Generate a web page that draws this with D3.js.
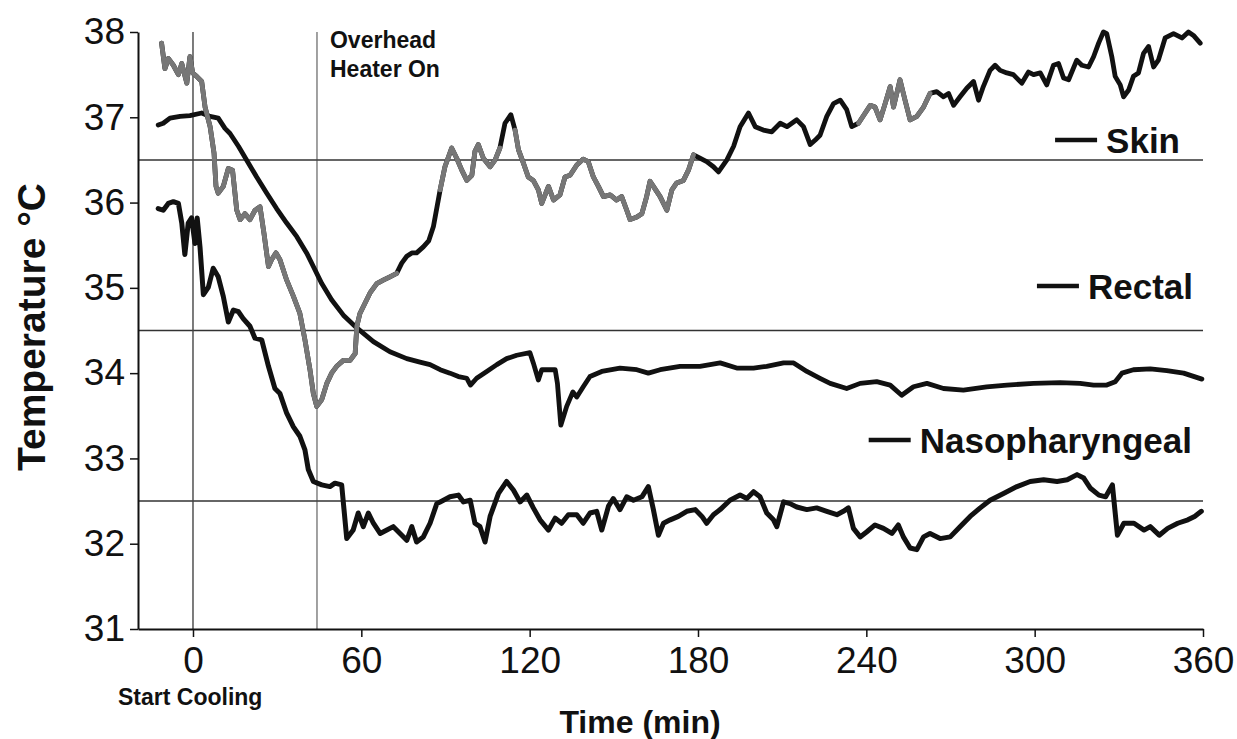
<!DOCTYPE html>
<html>
<head>
<meta charset="utf-8">
<script src="https://cdn.jsdelivr.net/npm/d3@7"></script>
<style>
  body { margin: 0; background: #fff; }
  svg { display: block; font-family: "Liberation Sans", Arial, Helvetica, sans-serif; }
</style>
</head>
<body>
<svg id="chart" width="1237" height="739"></svg>
<script>
// time (min), temperature (°C)
const skin = [[-11.2,37.87],[-10,37.57],[-8.8,37.69],[-7,37.61],[-5.2,37.50],[-4,37.63],[-2.2,37.40],[-1.1,37.71],[-0.1,37.52],[1.3,37.48],[3.1,37.42],[4.3,37.12],[6.1,36.89],[7.5,36.58],[8.2,36.19],[9,36.11],[10.8,36.19],[12.6,36.40],[14.1,36.38],[15.6,35.91],[16.8,35.80],[18.5,35.87],[20.3,35.80],[22.1,35.91],[23.9,35.95],[25.3,35.64],[26.9,35.25],[28,35.33],[29.6,35.41],[31,35.33],[33.4,35.09],[35.8,34.90],[38.1,34.70],[39.9,34.39],[41.7,34.04],[42.9,33.76],[44.1,33.61],[45.9,33.69],[47.7,33.88],[49.4,34.00],[51.2,34.08],[53.6,34.15],[56,34.15],[57.8,34.23],[58.4,34.55],[59.5,34.70],[61.3,34.82],[63.1,34.94],[65.5,35.05],[67.8,35.09],[70.2,35.13],[72.6,35.17],[74.4,35.29],[76.2,35.37],[78,35.41],[79.7,35.41],[82.1,35.48],[84,35.55],[85.7,35.72],[88.1,36.15],[89.8,36.42],[92.2,36.64],[94,36.52],[95.8,36.38],[97.6,36.26],[99.4,36.32],[100.5,36.60],[101.7,36.68],[103.5,36.52],[105.9,36.42],[107.7,36.50],[109.4,36.64],[111.2,36.93],[113.3,37.03],[114.8,36.85],[116,36.62],[117.8,36.46],[119.5,36.30],[121.3,36.26],[123.1,36.15],[124.3,35.99],[126.7,36.19],[128.5,36.03],[130.8,36.09],[132.6,36.30],[134.4,36.32],[136.8,36.44],[139.1,36.51],[140.9,36.48],[142.7,36.30],[144.5,36.19],[146.3,36.07],[148.7,36.09],[151,36.03],[152.8,36.07],[154.6,35.91],[155.8,35.80],[158.2,35.83],[160,35.87],[161.7,36.07],[162.9,36.25],[164.1,36.19],[166.5,36.07],[168.9,35.91],[170.7,36.15],[172.4,36.23],[174.8,36.26],[176.6,36.38],[178.4,36.56],[180.7,36.52],[183.1,36.48],[185.5,36.42],[187.3,36.36],[190.3,36.50],[192.7,36.66],[195,36.89],[198,37.05],[200.4,36.89],[203.3,36.85],[206.3,36.83],[209.3,36.93],[211.7,36.89],[215.2,36.97],[217.6,36.89],[220,36.68],[221.7,36.73],[223.5,36.79],[225.9,37.01],[228.3,37.16],[230.7,37.20],[233,37.09],[234.8,36.89],[237.2,36.93],[239.6,37.05],[241.4,37.14],[243.1,37.12],[244.9,36.97],[246.7,37.16],[248.5,37.36],[249.7,37.12],[252,37.44],[253.8,37.20],[255.6,36.97],[258,37.01],[260.4,37.12],[262.7,37.28],[265.1,37.30],[267.5,37.24],[269.3,37.28],[271.1,37.14],[273.4,37.24],[275.8,37.34],[278.2,37.42],[280,37.20],[281.7,37.36],[284.1,37.55],[285.9,37.61],[287.7,37.55],[290.1,37.52],[292.4,37.50],[295.4,37.40],[297.8,37.53],[299.6,37.50],[302,37.52],[304.3,37.38],[306.7,37.61],[308.5,37.63],[310.3,37.46],[312.1,37.44],[315,37.67],[316.8,37.61],[319.2,37.59],[321,37.71],[322.8,37.87],[324.5,38.00],[325.7,37.98],[327.5,37.71],[328.7,37.48],[330.5,37.38],[331.7,37.24],[333.5,37.32],[335.2,37.48],[337,37.52],[338.8,37.75],[340.6,37.83],[342.4,37.59],[344.1,37.67],[346.5,37.93],[349.5,37.98],[352.5,37.93],[354.8,38.00],[356.6,37.96],[359,37.87]];

const rectal = [[-12.4,36.91],[-10.6,36.93],[-8.2,36.99],[-4.6,37.01],[-1.1,37.02],[3.1,37.05],[6.1,37.01],[9,36.99],[11.4,36.87],[13.2,36.81],[16.2,36.66],[19.1,36.50],[22.7,36.30],[26.3,36.11],[29.8,35.93],[33.4,35.76],[37,35.60],[40.5,35.41],[42.9,35.25],[45.9,35.05],[49.4,34.86],[53.6,34.68],[58.4,34.53],[64.3,34.37],[70.2,34.25],[76.2,34.17],[80.9,34.13],[84.5,34.10],[88.1,34.04],[91.6,34.00],[94.6,33.96],[97.6,33.94],[98.9,33.86],[101.1,33.94],[104.7,34.02],[108.3,34.10],[111.8,34.17],[115.4,34.21],[120.1,34.24],[121.3,34.12],[123.1,33.92],[124.3,34.04],[129.1,34.04],[129.9,33.88],[131.1,33.39],[133.2,33.61],[135.4,33.78],[136.8,33.72],[139.1,33.84],[141.5,33.96],[145.7,34.02],[152.2,34.06],[158.2,34.04],[162.3,34.00],[166.5,34.04],[173.6,34.08],[180.7,34.08],[187.9,34.12],[193.8,34.06],[199.8,34.06],[204.5,34.08],[210.5,34.12],[214.1,34.12],[218.8,34.02],[223.5,33.94],[227.1,33.88],[233,33.82],[237.8,33.88],[243.7,33.90],[248.5,33.86],[252.6,33.74],[256.8,33.84],[261.6,33.88],[267.5,33.82],[274.6,33.80],[282.9,33.84],[290.1,33.86],[299.6,33.88],[309.1,33.89],[316.2,33.88],[321,33.86],[325.7,33.86],[328.7,33.90],[331.1,34.00],[335.2,34.04],[341.2,34.05],[347.1,34.03],[353.1,34.00],[359.6,33.93]];

const naso = [[-12.4,35.93],[-10.6,35.91],[-8.8,35.99],[-7,36.01],[-5.2,35.99],[-4,35.76],[-2.9,35.39],[-1.7,35.76],[-0.5,35.82],[0.7,35.52],[1.5,35.82],[2.5,35.48],[3.7,34.92],[5.5,35.01],[7.2,35.23],[9,35.13],[10.8,34.90],[12.6,34.60],[14.4,34.74],[16.2,34.72],[17.9,34.64],[20.3,34.55],[22.1,34.41],[24.5,34.39],[26.9,34.08],[29.2,33.82],[31,33.76],[33.4,33.53],[35.8,33.37],[38.1,33.26],[39.9,33.10],[41.1,32.87],[42.9,32.73],[45.9,32.69],[48.8,32.67],[50.6,32.71],[53,32.69],[54.8,32.06],[57.1,32.16],[58.9,32.36],[60.7,32.20],[62.5,32.36],[64.3,32.24],[66.7,32.12],[69.1,32.16],[71.4,32.20],[73.8,32.12],[76.2,32.04],[78,32.20],[79.7,32.02],[82.1,32.08],[84.5,32.24],[86.9,32.47],[88.1,32.49],[91.6,32.55],[94.6,32.57],[96.4,32.49],[98.8,32.51],[100.5,32.24],[102.3,32.20],[104.1,32.02],[105.9,32.32],[108.9,32.59],[111.8,32.73],[114.2,32.63],[116.6,32.49],[119,32.57],[121.3,32.42],[123.7,32.28],[126.7,32.16],[129.1,32.30],[131.4,32.24],[133.8,32.34],[136.8,32.34],[139.1,32.24],[141.5,32.36],[143.9,32.38],[145.7,32.16],[148.1,32.44],[149.8,32.53],[152.2,32.40],[154.6,32.55],[157,32.51],[160,32.55],[162.3,32.67],[164.1,32.40],[165.9,32.10],[167.7,32.24],[170.1,32.28],[173,32.32],[176,32.38],[179,32.40],[181.4,32.32],[183.1,32.24],[185.5,32.34],[187.9,32.40],[191.4,32.51],[195,32.57],[197.4,32.53],[199.8,32.61],[202.1,32.55],[204.5,32.36],[206.9,32.28],[208.1,32.20],[210.5,32.49],[212.8,32.47],[215.2,32.43],[218.8,32.40],[222.3,32.42],[225.9,32.38],[229.5,32.34],[231.8,32.38],[233.6,32.42],[235.4,32.18],[237.8,32.08],[240.2,32.14],[243.1,32.22],[246.1,32.18],[249.1,32.12],[251.4,32.22],[253.2,32.08],[255.6,31.95],[258,31.93],[260.4,32.08],[262.7,32.12],[266.3,32.06],[269.9,32.08],[273.4,32.20],[277,32.32],[280.6,32.42],[284.1,32.51],[288.9,32.59],[293.7,32.67],[298.4,32.73],[303.2,32.75],[308,32.73],[311.6,32.75],[315.1,32.81],[317.5,32.77],[319.9,32.65],[322.9,32.57],[325.3,32.55],[327.7,32.69],[329.5,32.10],[331.8,32.24],[335.4,32.24],[339,32.16],[341.2,32.20],[344.4,32.10],[347.4,32.18],[351,32.24],[354.6,32.28],[357,32.32],[359.4,32.38]];

// stretches of the skin trace that print in grey on the original
const skinGreyRanges = [[-15, 72.6], [88.1, 109.4], [114.8, 178.4], [236, 262.7]];

const refLines = [36.5, 34.5, 32.5];
const events = [
  { t: 0, label: ["Start Cooling"] },
  { t: 44.2, label: ["Overhead", "Heater On"] }
];
const xTicks = [0, 60, 120, 180, 240, 300, 360];
const yTicks = [31, 32, 33, 34, 35, 36, 37, 38];
const seriesNames = ["Skin", "Rectal", "Nasopharyngeal"];

const svg = d3.select("#chart");

const x = d3.scaleLinear().domain([-19.6, 360]).range([138, 1203]);
const y = d3.scaleLinear().domain([31, 38]).range([629, 32]);

// reference lines
svg.append("g")
  .selectAll("line")
  .data(refLines)
  .join("line")
  .attr("x1", x.range()[0])
  .attr("x2", x.range()[1])
  .attr("y1", d => y(d))
  .attr("y2", d => y(d))
  .attr("stroke", "#333")
  .attr("stroke-width", 1.4);

// event markers
svg.append("g")
  .selectAll("line")
  .data(events)
  .join("line")
  .attr("x1", d => x(d.t))
  .attr("x2", d => x(d.t))
  .attr("y1", y(38))
  .attr("y2", y(31))
  .attr("stroke", "#444")
  .attr("stroke-width", (d, i) => i === 0 ? 1.4 : 1);

// axes
const xAxis = svg.append("g")
  .attr("transform", `translate(0,${y(31)})`)
  .call(d3.axisBottom(x).tickValues(xTicks).tickSize(8).tickSizeOuter(0).tickPadding(10));

const yAxis = svg.append("g")
  .attr("transform", `translate(${x.range()[0]},0)`)
  .call(d3.axisLeft(y).tickValues(yTicks).tickFormat(d3.format("d"))
    .tickSize(8).tickSizeOuter(0).tickPadding(5));

[xAxis, yAxis].forEach(a => {
  a.select(".domain").attr("stroke", "#111").attr("stroke-width", 2);
  a.selectAll(".tick line").attr("stroke", "#111").attr("stroke-width", 1.5);
  a.selectAll(".tick text")
    .attr("fill", "#111")
    .style("font-family", "'Liberation Sans', Arial, Helvetica, sans-serif")
    .style("font-size", "37px");
});

// lines
const line = d3.line()
  .x(d => x(d[0]))
  .y(d => y(d[1]));

const lines = svg.append("g")
  .attr("fill", "none")
  .attr("stroke-linejoin", "round")
  .attr("stroke-linecap", "round");

lines.append("path")
  .datum(rectal)
  .attr("d", line)
  .attr("stroke", "#111")
  .attr("stroke-width", 4.8);

lines.append("path")
  .datum(naso)
  .attr("d", line)
  .attr("stroke", "#111")
  .attr("stroke-width", 5);

lines.append("path")
  .datum(skin)
  .attr("d", line)
  .attr("stroke", "#111")
  .attr("stroke-width", 4.8);

skinGreyRanges.forEach(r => {
  lines.append("path")
    .datum(skin.filter(d => d[0] >= r[0] && d[0] <= r[1]))
    .attr("d", line)
    .attr("stroke", "#777")
    .attr("stroke-width", 4.8);
});

// event labels
svg.append("text")
  .attr("x", 118)
  .attr("y", 705)
  .attr("font-weight", "bold")
  .attr("font-size", 23)
  .attr("fill", "#111")
  .text(events[0].label[0]);

const heater = svg.append("text")
  .attr("x", x(events[1].t) + 13)
  .attr("y", 48)
  .attr("font-weight", "bold")
  .attr("font-size", 23)
  .attr("fill", "#111");
heater.selectAll("tspan")
  .data(events[1].label)
  .join("tspan")
  .attr("x", x(events[1].t) + 13)
  .attr("dy", (d, i) => i === 0 ? 0 : 29)
  .text(d => d);

// legend labels next to each trace
const legendPos = [[1180, 153], [1193, 299], [1192, 453]];
const legend = svg.append("g")
  .attr("font-weight", "bold")
  .attr("font-size", 35)
  .attr("fill", "#111");

seriesNames.forEach((name, i) => {
  const [lx, ly] = legendPos[i];
  const t = legend.append("text")
    .attr("x", lx)
    .attr("y", ly)
    .attr("text-anchor", "end")
    .text(name);
  const w = t.node().getComputedTextLength();
  legend.append("line")
    .attr("x1", lx - w - 51)
    .attr("x2", lx - w - 9)
    .attr("y1", ly - 13)
    .attr("y2", ly - 13)
    .attr("stroke", "#111")
    .attr("stroke-width", 4.5);
});

// axis titles
svg.append("text")
  .attr("x", 640)
  .attr("y", 733)
  .attr("text-anchor", "middle")
  .attr("font-weight", "bold")
  .attr("font-size", 32)
  .attr("fill", "#111")
  .text("Time (min)");

svg.append("text")
  .attr("transform", "translate(45,327) rotate(-90)")
  .attr("text-anchor", "middle")
  .attr("font-weight", "bold")
  .attr("font-size", 39)
  .attr("fill", "#111")
  .text("Temperature °C");
</script>
</body>
</html>
